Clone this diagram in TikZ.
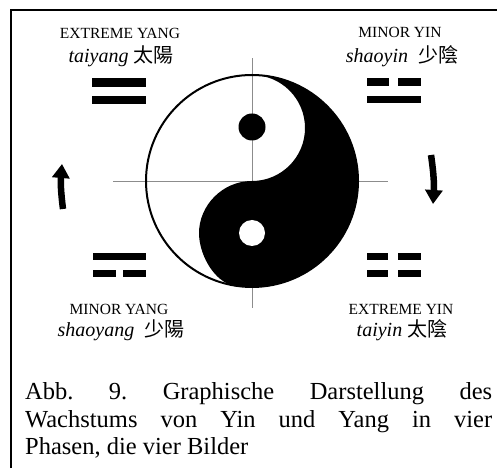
\documentclass[tikz,border=0pt]{standalone}
\usepackage{fontspec}
\setmainfont{Liberation Serif}
\newfontfamily\cjk{Noto Sans CJK TC}
\usetikzlibrary{arrows.meta}
\begin{document}
\begin{tikzpicture}[x=1pt,y=1pt,
  caps/.style={font=\fontsize{15.5}{18}\selectfont, inner sep=0pt, anchor=base},
  pin/.style={font=\fontsize{20}{24}\selectfont\itshape, inner sep=0pt, anchor=base},
  guide/.style={draw=black!45, line width=0.8pt},
  turn/.style={line width=6.5pt, -{Triangle[width=17pt,length=14pt]}},
  capline/.style={font=\fontsize{24.5}{29}\selectfont, inner sep=0pt, anchor=base west}]
\useasboundingbox (0,0) rectangle (497,468);
% frame
\draw[line width=1.3pt] (11,0) -- (11,458) -- (490,458);
\draw[line width=2.6pt] (11,458) -- (30,458);
\draw[line width=2.6pt] (490,458) -- (497,458);
% guides
\draw[guide] (113,287) -- (388,287);
\draw[guide] (252,160) -- (252,410);
% yin-yang
\coordinate (c) at (252,287);
\fill (252,393) arc[start angle=90,end angle=-102,radius=106]
  .. controls (212,190) and (199,215) .. (199,235)
  .. controls (199,262) and (222,287) .. (252,287)
  arc[start angle=-90,end angle=90,radius=53] -- cycle;
\draw[line width=2pt] (c) circle[radius=106];
\fill (252,341) circle[radius=13.5];
\fill[white] (252,235) circle[radius=13];
% labels
\node[caps] (l1) at (120,429) {EXTREME YANG};
\node[pin] (p1) at (121,405) {taiyang {\cjk\upshape 太陽}};
\node[caps] (l2) at (400,430) {MINOR YIN};
\node[pin] (p2) at (402,405) {shaoyin\ \ {\cjk\upshape 少陰}};
\node[caps] (l3) at (119,153) {MINOR YANG};
\node[pin] (p3) at (121,131) {shaoyang\ \ {\cjk\upshape 少陽}};
\node[caps] (l4) at (401,153) {EXTREME YIN};
\node[pin] (p4) at (402,131) {taiyin {\cjk\upshape 太陰}};
% trigrams
\fill (92,381) rectangle (146,390); \fill (92,364) rectangle (146,372);
\fill (367,382) rectangle (389,390); \fill (398,382) rectangle (421,390);
\fill (367,365) rectangle (421,372);
\fill (93,208) rectangle (146,215);
\fill (93,191) rectangle (116,198); \fill (123,191) rectangle (146,198);
\fill (367,208) rectangle (388,215); \fill (398,208) rectangle (421,215);
\fill (367,191) rectangle (388,198); \fill (398,191) rectangle (421,198);
% arrows
\coordinate (la) at (63,259); \coordinate (lb) at (62,304);
\coordinate (ra) at (431,313); \coordinate (rb) at (433,264);
\draw[turn] (la) to[bend left=6] (lb);
\draw[turn] (ra) to[bend left=6] (rb);
% caption
\node[capline] (c1) at (25,68) {\hbox to 467pt{Abb.\hfill 9.\hfill Graphische\hfill Darstellung\hfill des}};
\node[capline] (c2) at (25,41) {\hbox to 467pt{Wachstums\hfill von\hfill Yin\hfill und\hfill Yang\hfill in\hfill vier}};
\node[capline] (c3) at (25,14) {Phasen, die vier Bilder};
\end{tikzpicture}
\end{document}
